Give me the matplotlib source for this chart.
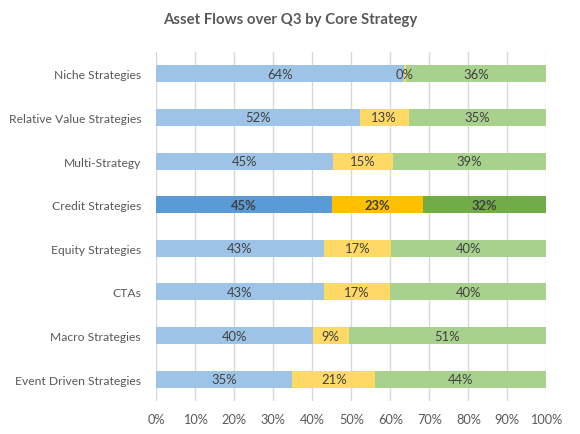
import numpy as np
import matplotlib.pyplot as plt

plt.rcParams['font.family'] = ['Lato', 'DejaVu Sans']

strategies = ['Niche Strategies', 'Relative Value Strategies', 'Multi-Strategy',
              'Credit Strategies', 'Equity Strategies', 'CTAs',
              'Macro Strategies', 'Event Driven Strategies']
part_a = [63.6, 52.1, 45.4, 45.1, 43.0, 43.0, 40.2, 34.9]
part_b = [0.3, 12.6, 15.3, 23.2, 17.2, 16.9, 9.1, 21.2]
part_c = [36.1, 35.3, 39.3, 31.7, 39.8, 40.1, 50.7, 43.9]
highlight = 'Credit Strategies'

light = ['#9DC3E6', '#FFD966', '#A9D18E']
dark = ['#5B9BD5', '#FFC000', '#70AD47']

fig, ax = plt.subplots(figsize=(5.8, 4.35), dpi=100)
fig.subplots_adjust(left=0.2695, right=0.942, top=0.878, bottom=0.076)

y = np.arange(len(strategies))
left = np.zeros(len(strategies))
for k, vals in enumerate([part_a, part_b, part_c]):
    vals = np.array(vals)
    cols = [dark[k] if s == highlight else light[k] for s in strategies]
    ax.barh(y, vals, left=left, height=0.39, color=cols, zorder=3)
    for i, v in enumerate(vals):
        bold = strategies[i] == highlight
        ax.text(left[i] + v / 2, y[i], '%.0f%%' % v, ha='center', va='center',
                fontsize=9.4, color='#404040', zorder=4,
                fontweight='bold' if bold else 'normal')
    left += vals

ax.set_ylim(len(strategies) - 0.5, -0.5)
ax.set_xlim(0, 100)
ax.set_yticks(y)
ax.set_yticklabels(strategies, fontsize=8.7, color='#595959')
ax.set_xticks(np.arange(0, 101, 10))
ax.set_xticklabels(['%d%%' % t for t in range(0, 101, 10)], fontsize=9.2, color='#595959')
ax.tick_params(length=0, pad=11)
ax.tick_params(axis='x', pad=9)
ax.grid(axis='x', color='#D9D9D9', linewidth=1, zorder=0)
for s in ax.spines.values():
    s.set_visible(False)

fig.text(0.5, 0.953, 'Asset Flows over Q3 by Core Strategy', ha='center', va='center',
         fontsize=10.8, fontweight='bold', color='#595959')

fig.savefig('out.png')
